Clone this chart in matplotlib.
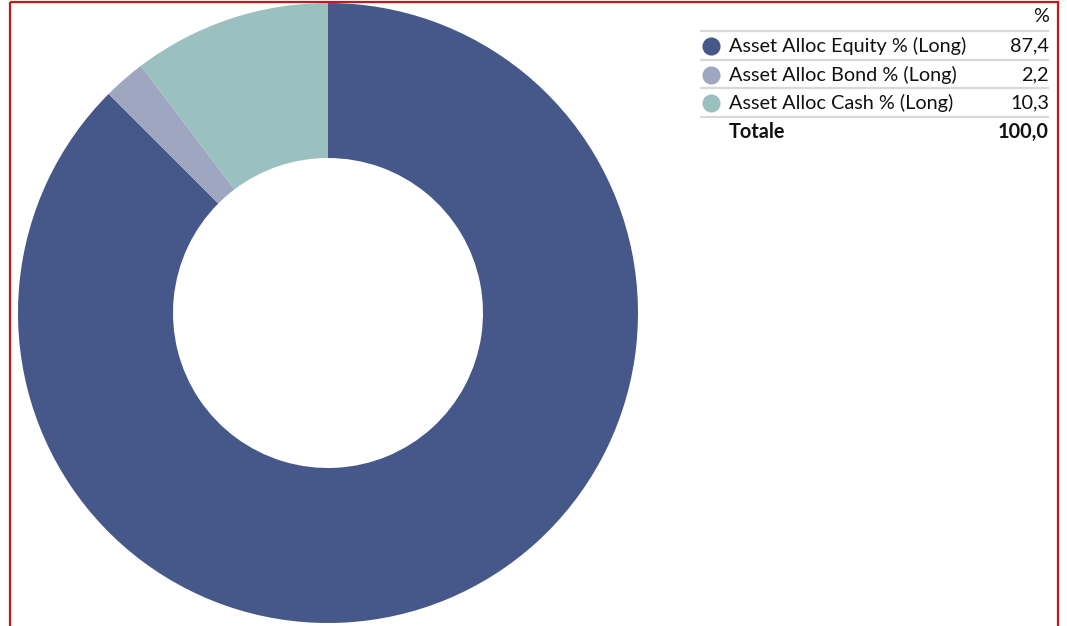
import matplotlib
matplotlib.use("Agg")
import matplotlib.pyplot as plt
from matplotlib.patches import Rectangle

# Asset allocation (long positions), in percent
labels = ["Asset Alloc Equity % (Long)", "Asset Alloc Bond % (Long)", "Asset Alloc Cash % (Long)"]
values = [87.4, 2.2, 10.3]
total_label = "Totale"
total_value = 100.0
colors = ["#465789", "#9fa6c0", "#9bc0c0"]

W, H = 1067, 626
fig = plt.figure(figsize=(W / 100, H / 100), dpi=100)
fig.patch.set_facecolor("white")

FONT = ["Lato", "DejaVu Sans"]

def fmt(v):
    return f"{v:.1f}".replace(".", ",")

# overlay in pixel coordinates for the border and the table
ov = fig.add_axes([0, 0, 1, 1])
ov.set_xlim(0, W)
ov.set_ylim(H, 0)
ov.axis("off")
ov.add_patch(Rectangle((10, 2), 1048, 700, fill=False, edgecolor="#c8161d", lw=1.6, zorder=5))

# donut
cx, cy, r = 328, 313, 310
pax = fig.add_axes([(cx - r) / W, (H - cy - r) / H, 2 * r / W, 2 * r / H])
pax.pie(values, colors=colors, startangle=90, counterclock=False, radius=1.0,
        wedgeprops=dict(width=0.5, linewidth=0))
pax.set_xlim(-1, 1)
pax.set_ylim(-1, 1)
pax.set_aspect("equal")
pax.axis("off")

# table legend
x_left, x_right = 700, 1049
fs = 14.3
ov.text(x_right, 17, "%", ha="right", va="center", fontsize=fs, family=FONT, color="#111111")
line_ys = [31, 60, 88, 117]
for y in line_ys:
    ov.plot([x_left, x_right], [y, y], color="#d9d9d9", lw=1.6, solid_capstyle="butt")
row_ys = [46, 75, 103]
for y, lab, v, c in zip(row_ys, labels, values, colors):
    ov.scatter([711], [y], s=170, color=c, marker="o", linewidths=0, zorder=4)
    ov.text(729, y, lab, ha="left", va="center", fontsize=fs, family=FONT, color="#111111")
    ov.text(x_right, y, fmt(v), ha="right", va="center", fontsize=fs,
            family=FONT, color="#111111")
ov.text(729, 132, total_label, ha="left", va="center", fontsize=fs, family=FONT,
        fontweight="bold", color="#111111")
ov.text(x_right, 132, fmt(total_value), ha="right", va="center", fontsize=fs, family=FONT,
        fontweight="bold", color="#111111")

fig.savefig("out.png", dpi=100, facecolor="white")
